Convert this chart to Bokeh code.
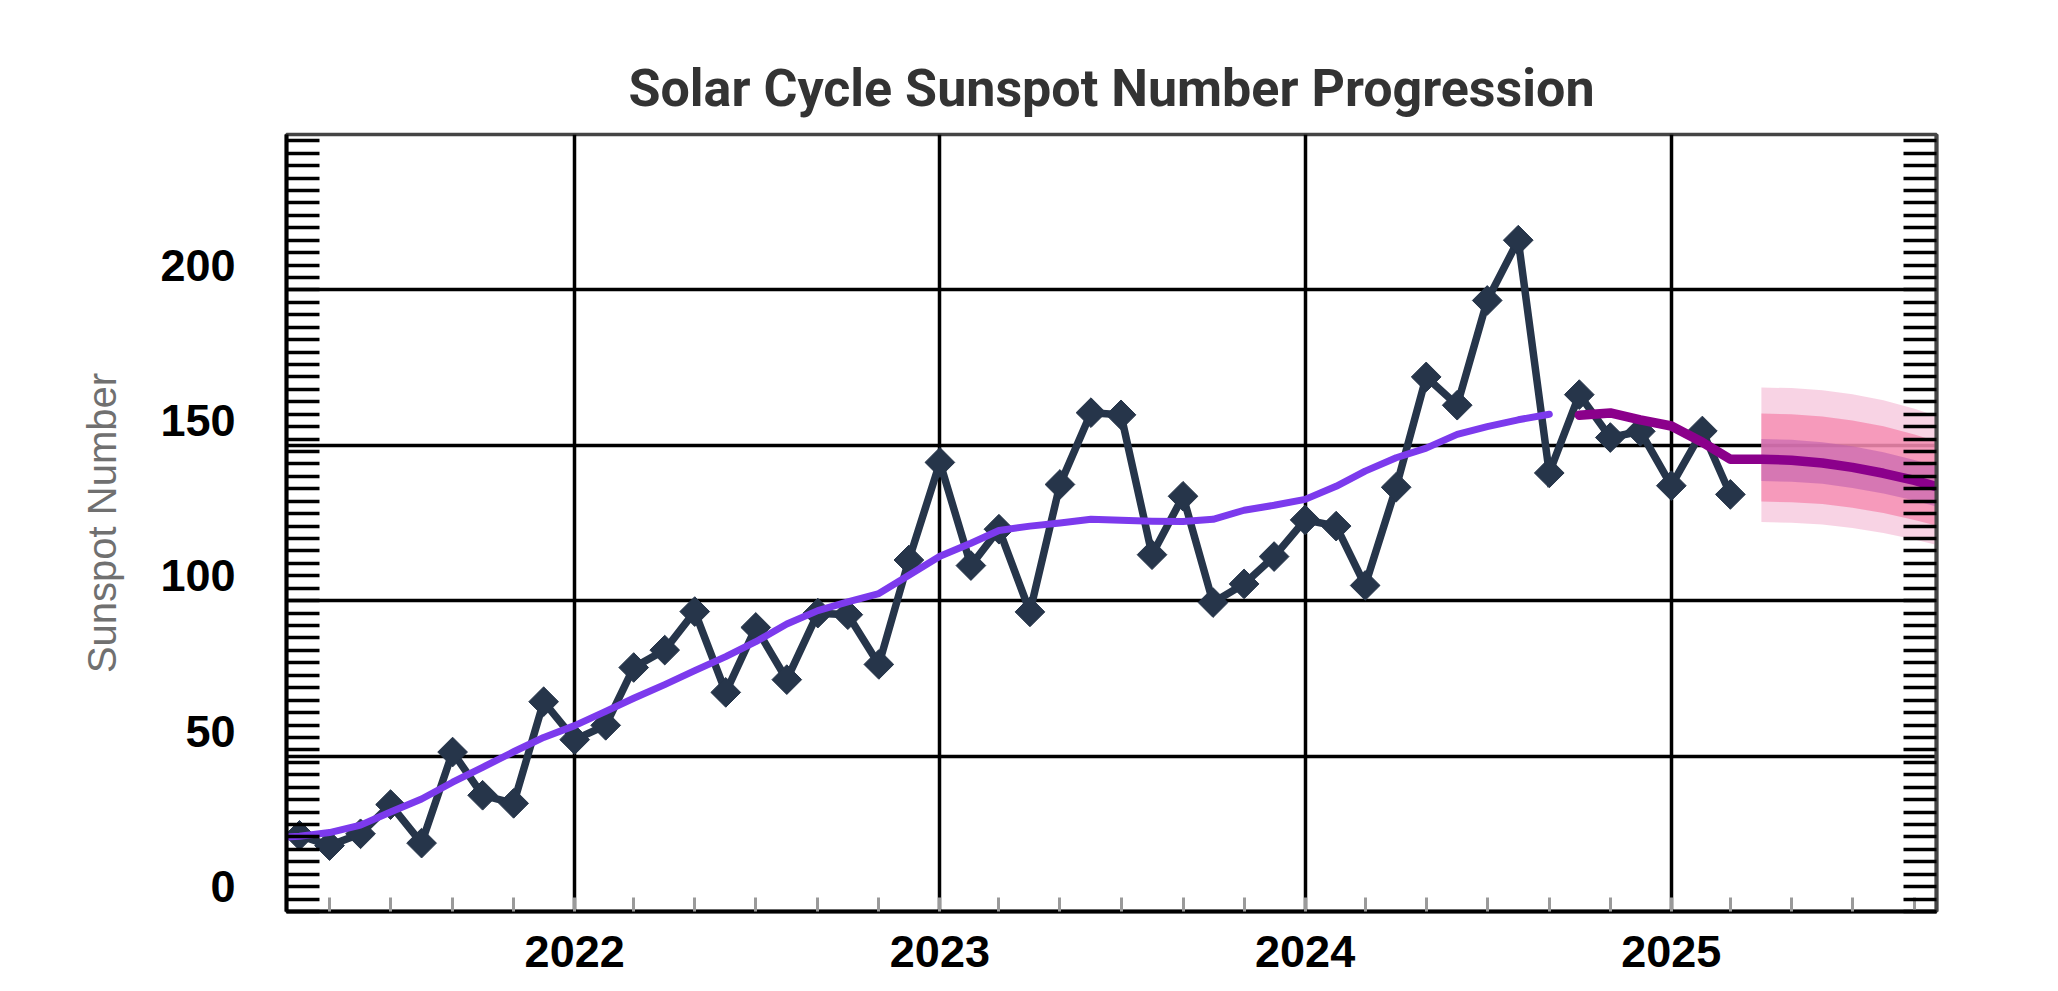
import numpy as np
import pandas as pd
from bokeh.plotting import figure
from bokeh.models import (Range1d, LinearAxis, DatetimeAxis, FixedTicker, Grid,
                          DatetimeTickFormatter, ColumnDataSource)
from bokeh.embed import file_html
from bokeh.resources import INLINE

# ---------------- data ----------------
monthly_dates = pd.date_range("2021-04-01", "2025-03-01", freq="MS")
monthly_ssn = [24.5, 21.2, 25.0, 34.4, 22.0, 51.3, 37.4, 34.8, 67.5,
               55.3, 59.9, 78.5, 84.1, 96.5, 70.5, 91.4, 74.6, 96.0, 95.5, 79.5, 113.1,
               144.5, 111.3, 123.0, 96.4, 137.4, 160.5, 159.8, 114.8, 133.6, 99.4, 105.4, 114.2,
               126.0, 124.0, 104.9, 136.5, 172.0, 162.9, 196.6, 216.0, 141.1, 166.3, 152.5, 154.5,
               137.0, 154.6, 134.2]

smoothed_dates = pd.date_range("2021-03-01", "2024-09-01", freq="MS")
smoothed_ssn = [23.6, 24.2, 25.4, 27.8, 32.0, 36.2, 41.6, 46.4, 51.4, 56.0,
                59.8, 64.4, 68.6, 73.0, 77.5, 82.0, 86.8, 92.5, 96.8, 99.6, 102.3, 108.2,
                114.3, 118.5, 122.6, 124.0, 125.0, 126.2, 125.9, 125.6, 125.5, 126.2, 129.1, 130.7,
                132.6, 136.8, 141.7, 146.0, 149.1, 153.5, 156.0, 158.2, 160.0]

pred_dates = pd.date_range("2024-10-01", "2025-10-01", freq="MS")
pred_ssn = [159.7, 160.4, 158.2, 156.2, 151.0, 145.5, 145.5, 145.2, 144.3, 142.9, 141.0, 138.7, 136.0]

band_dates = pd.date_range("2025-04-01", "2025-10-01", freq="MS")
outer_hi = [168.6, 168.4, 167.7, 166.4, 164.5, 161.8, 158.5]
mid_hi = [160.2, 160.0, 159.3, 158.0, 156.1, 153.5, 150.5]
inner_hi = [152.0, 151.8, 151.0, 149.7, 147.8, 145.3, 142.5]
inner_lo = [138.5, 138.3, 137.6, 136.3, 134.5, 132.2, 129.6]
mid_lo = [131.9, 131.7, 131.1, 129.9, 128.2, 126.0, 123.5]
outer_lo = [125.3, 125.1, 124.5, 123.4, 121.8, 119.7, 117.3]

year_ticks = [pd.Timestamp(f"{y}-01-01") for y in (2022, 2023, 2024, 2025)]
y_ticks = [0, 50, 100, 150, 200]

# ---------------- figure ----------------
FONT = "Liberation Sans"
p = figure(width=2042, height=975, output_backend="svg", toolbar_location=None,
           x_axis_type=None, y_axis_type=None,
           x_range=Range1d(pd.Timestamp("2021-03-19"), pd.Timestamp("2025-09-23")),
           y_range=Range1d(0, 250),
           min_border_left=286, min_border_right=106, min_border_top=134,
           min_border_bottom=64)
p.background_fill_color = "white"
p.border_fill_color = "white"
p.outline_line_color = "#444444"
p.outline_line_width = 3.5

p.title.text = "Solar Cycle Sunspot Number Progression"
p.title.align = "center"
p.title.text_font = "Roboto"
p.title.text_font_size = "52px"
p.title.text_font_style = "bold"
p.title.text_color = "#333333"
p.title.standoff = 31

# label range shifted so that value labels sit slightly above their gridlines
p.extra_y_ranges = {"lab": Range1d(-8, 242)}
minor_y = [4 * k - 8 for k in range(0, 63)]


def y_axis(show_labels, line_color):
    ax = LinearAxis(y_range_name="lab",
                    ticker=FixedTicker(ticks=y_ticks, minor_ticks=minor_y))
    ax.axis_line_color = line_color
    ax.axis_line_width = 4
    ax.major_tick_in = 0
    ax.major_tick_out = 0
    ax.minor_tick_in = 33
    ax.minor_tick_out = 0
    ax.minor_tick_line_color = "black"
    ax.minor_tick_line_width = 3.5
    if show_labels:
        ax.major_label_text_font = FONT
        ax.major_label_text_font_size = "45px"
        ax.major_label_text_font_style = "bold"
        ax.major_label_text_color = "black"
        ax.major_label_standoff = 51
        ax.axis_label = "Sunspot Number"
        ax.axis_label_text_font = FONT
        ax.axis_label_text_font_size = "40px"
        ax.axis_label_text_font_style = "normal"
        ax.axis_label_text_color = "#707070"
        ax.axis_label_standoff = 33
    else:
        ax.major_label_text_font_size = "1px"
        ax.major_label_text_color = None
    return ax


p.add_layout(y_axis(True, "black"), "left")
p.add_layout(y_axis(False, "#444444"), "right")

minor_x = list(pd.date_range("2021-01-01", "2026-01-01", freq="2MS"))
xax = DatetimeAxis(ticker=FixedTicker(ticks=[t.value / 1e6 for t in year_ticks],
                                      minor_ticks=[t.value / 1e6 for t in minor_x]),
                   formatter=DatetimeTickFormatter(microseconds="%Y", milliseconds="%Y",
                                                   seconds="%Y", minsec="%Y", minutes="%Y",
                                                   hourmin="%Y", hours="%Y", days="%Y",
                                                   months="%Y", years="%Y"))
xax.axis_line_color = "black"
xax.axis_line_width = 4
xax.major_tick_in = 0
xax.major_tick_out = 0
xax.minor_tick_in = 14
xax.minor_tick_out = 0
xax.minor_tick_line_color = "#9a9a9a"
xax.minor_tick_line_width = 3
xax.major_label_text_font = FONT
xax.major_label_text_font_size = "45px"
xax.major_label_text_font_style = "bold"
xax.major_label_text_color = "black"
xax.major_label_standoff = 24
p.add_layout(xax, "below")

p.add_layout(Grid(dimension=0, ticker=FixedTicker(ticks=[t.value / 1e6 for t in year_ticks]),
                  grid_line_color="black", grid_line_width=3.5))
p.add_layout(Grid(dimension=1, ticker=FixedTicker(ticks=[50, 100, 150, 200]),
                  grid_line_color="black", grid_line_width=3.5))

# ---------------- glyphs ----------------
band_src = ColumnDataSource(dict(x=band_dates, ohi=outer_hi, olo=outer_lo, mhi=mid_hi,
                                 mlo=mid_lo, ihi=inner_hi, ilo=inner_lo))
p.varea(x="x", y1="olo", y2="ohi", source=band_src, fill_color="#f4b6d2", fill_alpha=0.6)
p.varea(x="x", y1="mlo", y2="mhi", source=band_src, fill_color="#f47fa8", fill_alpha=0.68)
p.varea(x="x", y1="ilo", y2="ihi", source=band_src, fill_color="#c260ae", fill_alpha=0.6)

NAVY = "#26354a"
msrc = ColumnDataSource(dict(x=monthly_dates, y=monthly_ssn))
p.line(x="x", y="y", source=msrc, line_color=NAVY, line_width=7.5, line_join="miter")
p.scatter(x="x", y="y", source=msrc, marker="square", angle=np.pi / 4, size=21,
          fill_color=NAVY, line_color=NAVY)

p.line(x=smoothed_dates, y=smoothed_ssn, line_color="#7c3aed", line_width=7,
       line_join="round", line_cap="round")
p.line(x=pred_dates, y=pred_ssn, line_color="#8b008b", line_width=9.5,
       line_join="round", line_cap="round")

open("out.html", "w").write(file_html(p, INLINE))
